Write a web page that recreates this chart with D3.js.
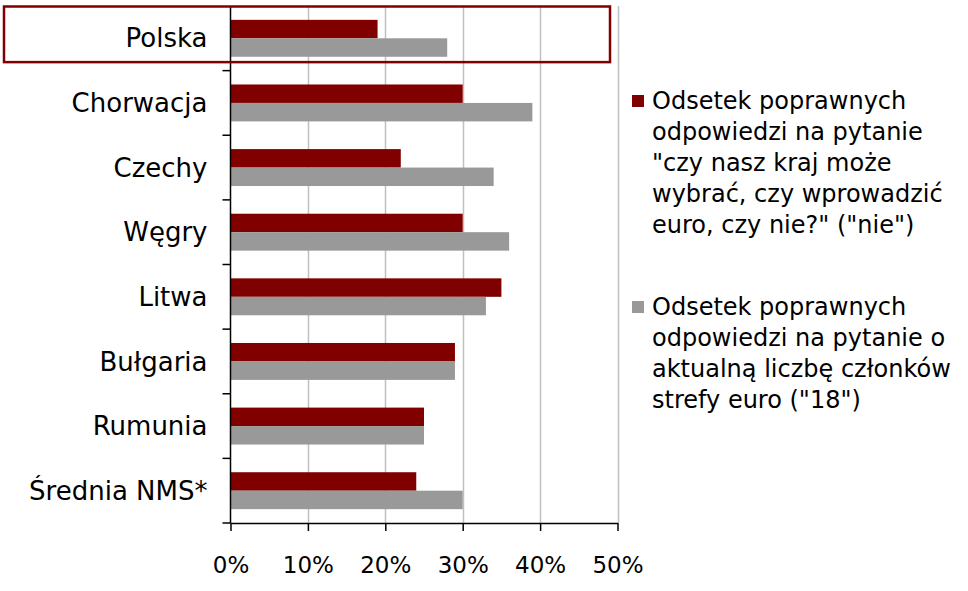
<!DOCTYPE html>
<html><head><meta charset="utf-8">
<script src="https://cdn.jsdelivr.net/npm/d3@7"></script>
<style>
html,body{margin:0;padding:0;background:#fff;}
svg{display:block;}
text{font-family:"DejaVu Sans",sans-serif;fill:#000;}
</style></head>
<body>
<svg id="c" width="968" height="591"></svg>
<script>
const categories = ["Polska","Chorwacja","Czechy","Węgry","Litwa","Bułgaria","Rumunia","Średnia NMS*"];
const seriesNie = [19,30,22,30,35,29,25,24];
const series18 = [28,39,34,36,33,29,25,30];
const tickValues = [0,10,20,30,40,50];
const legendTexts = [
  ["Odsetek poprawnych","odpowiedzi na pytanie","\"czy nasz kraj może","wybrać, czy wprowadzić","euro, czy nie?\" (\"nie\")"],
  ["Odsetek poprawnych","odpowiedzi na pytanie o","aktualną liczbę członków","strefy euro (\"18\")"]
];
const colors = ["#800000","#999999"];

const svg = d3.select("#c");
const x = d3.scaleLinear().domain([0,50]).range([230.5,617.5]);
const y = d3.scaleBand().domain(categories).range([6,523]);
const inner = d3.scaleBand().domain([0,1]).range([0,y.bandwidth()]).paddingOuter(0.75).paddingInner(0);

// gridlines
svg.append("g").selectAll("line").data(tickValues.slice(1)).join("line")
  .attr("x1",d=>Math.round(x(d))+0.5).attr("x2",d=>Math.round(x(d))+0.5)
  .attr("y1",6).attr("y2",523)
  .attr("stroke","#c0c0c0").attr("stroke-width",1.5);

// bars
const g = svg.append("g");
categories.forEach((c,i)=>{
  [seriesNie[i],series18[i]].forEach((v,j)=>{
    g.append("rect").attr("x",x(0)).attr("y",y(c)+inner(j))
      .attr("width",x(v)-x(0)).attr("height",inner.bandwidth())
      .attr("fill",colors[j]);
  });
});

// y axis
const ya = svg.append("g").attr("transform","translate(230.5,0)");
ya.append("line").attr("x1",0).attr("x2",0).attr("y1",6).attr("y2",523).attr("stroke","#000").attr("stroke-width",1.5);
const bounds = categories.map(c=>y(c)+y.bandwidth());
ya.selectAll("line.t").data(bounds).join("line").attr("class","t")
  .attr("x1",-8).attr("x2",0).attr("y1",d=>d).attr("y2",d=>d).attr("stroke","#000").attr("stroke-width",1.5);
ya.selectAll("text").data(categories).join("text")
  .attr("x",-23).attr("y",c=>y(c)+y.bandwidth()/2).attr("dy","0.35em")
  .attr("text-anchor","end").attr("font-size",26).text(c=>c);

// x axis
const xa = svg.append("g").attr("transform","translate(0,523)")
  .call(d3.axisBottom(x).tickValues(tickValues).tickFormat(d=>d+"%").tickSize(8).tickSizeOuter(0));
xa.select(".domain").attr("stroke","#000").attr("stroke-width",1.5);
xa.selectAll(".tick line").attr("stroke","#000").attr("stroke-width",1.5);
xa.selectAll(".tick text").attr("font-size",23).attr("font-family","DejaVu Sans, sans-serif").attr("fill","#000").attr("y",34);

// highlight box
svg.append("rect").attr("x",4).attr("y",y("Polska")+0.5).attr("width",606).attr("height",y.bandwidth()-9)
  .attr("fill","none").attr("stroke","#800000").attr("stroke-width",2.5);

// legend
const legY = [101,307];
legendTexts.forEach((lines,k)=>{
  svg.append("rect").attr("x",632).attr("y",legY[k]-6).attr("width",12).attr("height",12).attr("fill",colors[k]);
  svg.append("text").attr("x",652).attr("y",legY[k]).attr("font-size",24)
    .selectAll("tspan").data(lines).join("tspan")
    .attr("x",652).attr("dy",(d,i)=>i===0?"0.35em":"31").text(d=>d);
});
</script>
</body></html>
